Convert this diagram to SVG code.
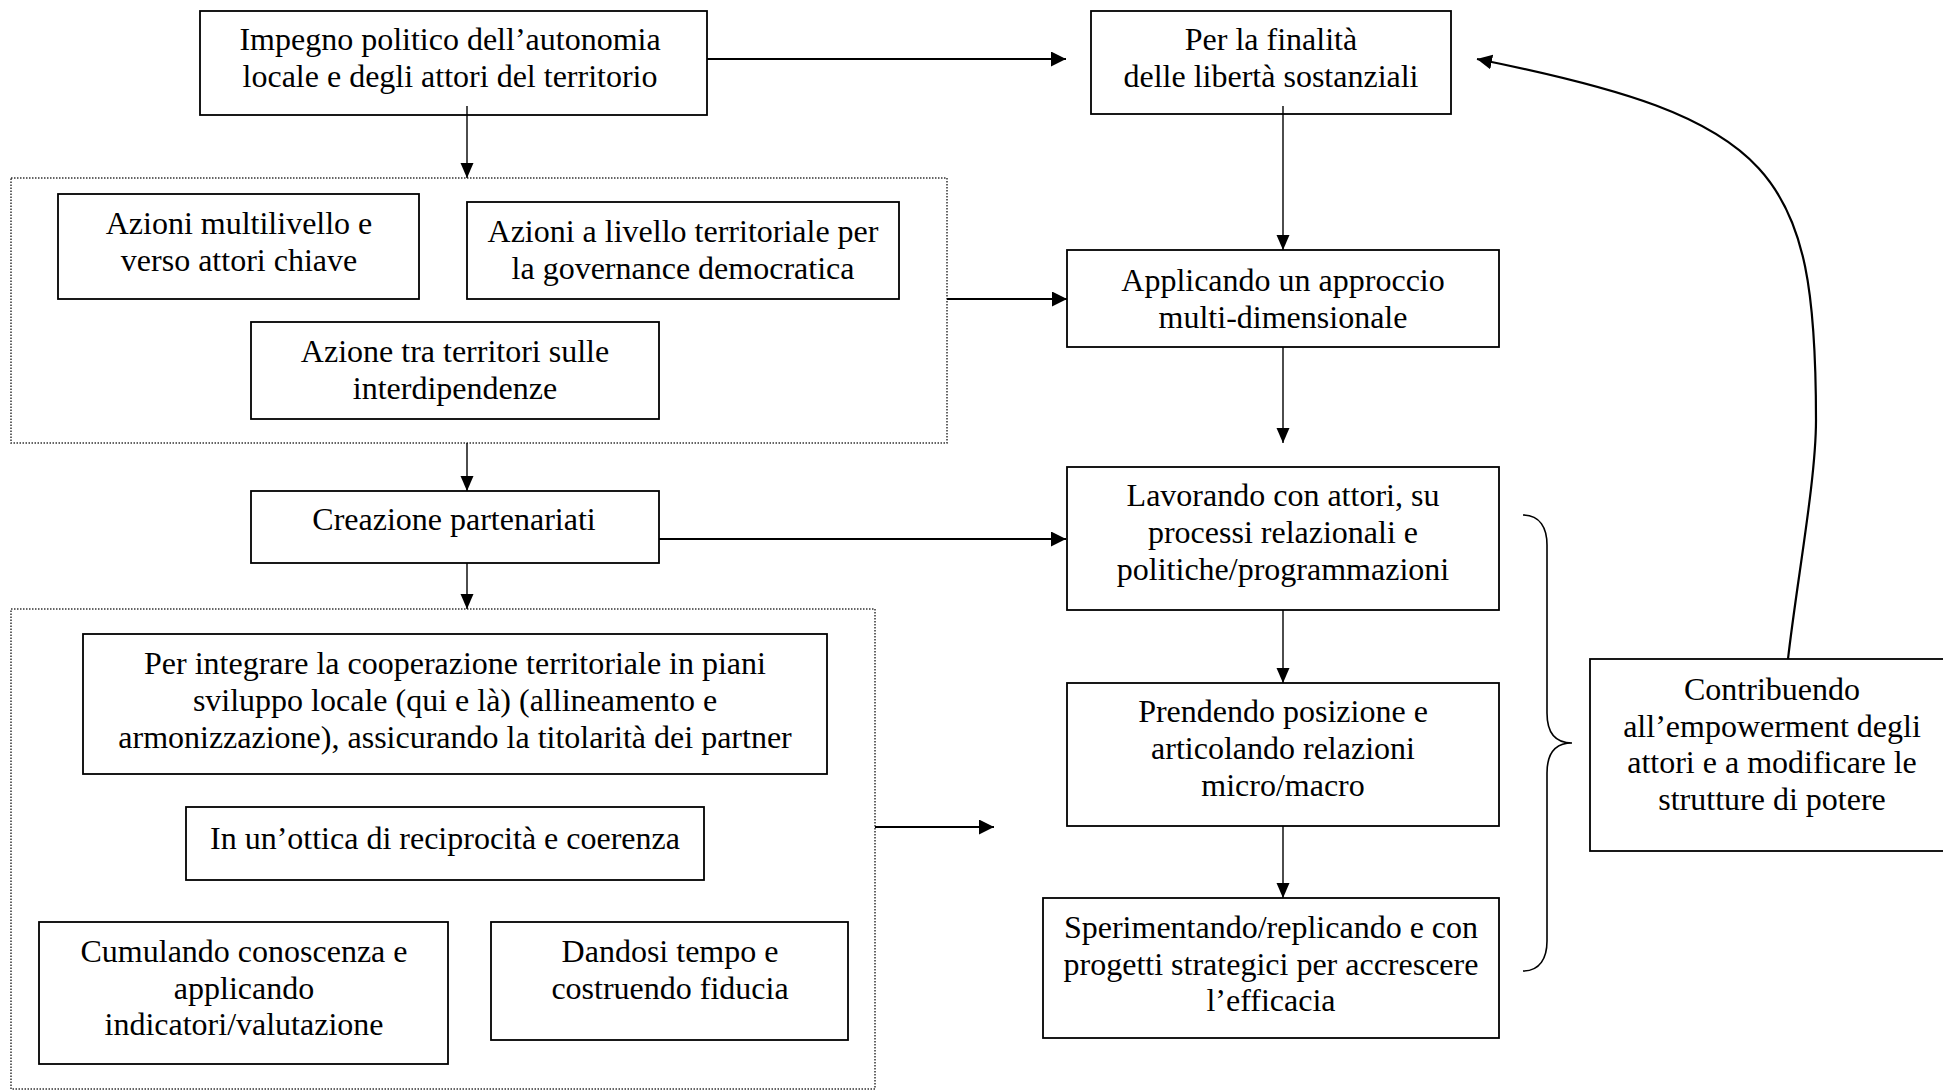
<svg xmlns="http://www.w3.org/2000/svg" width="1943" height="1091" viewBox="0 0 1943 1091">
<defs>
<style>
.box{fill:#fff;stroke:#000;stroke-width:1.8}
.grp{fill:none;stroke:#333;stroke-width:1.5;stroke-dasharray:1.5 1.5}
.h{fill:none;stroke:#000;stroke-width:2.2}
.v{fill:none;stroke:#000;stroke-width:1.4}
.c{fill:none;stroke:#000;stroke-width:2.2}
.br{fill:none;stroke:#000;stroke-width:1.6}
text{font-family:"Liberation Serif","Times New Roman",serif;font-size:32px;fill:#000;text-anchor:middle}
</style>
<marker id="ah" markerUnits="userSpaceOnUse" markerWidth="16" markerHeight="15" refX="15" refY="7.5" orient="auto" viewBox="0 0 16 15">
<path d="M0,0 L15,7.5 L0,15 z" fill="#000"/>
</marker>
<marker id="av" markerUnits="userSpaceOnUse" markerWidth="16" markerHeight="14" refX="15" refY="7" orient="auto" viewBox="0 0 16 14">
<path d="M0,0.5 L15,7 L0,13.5 z" fill="#000"/>
</marker>
</defs>

<g id="group-actions">
<rect class="grp" x="11" y="178" width="936" height="265"/>
</g>
<g id="group-methods">
<rect class="grp" x="11" y="609" width="864" height="480"/>
</g>

<g id="n-impegno">
<rect class="box" x="200" y="11" width="507" height="104"/>
<text x="450" y="50">Impegno politico dell’autonomia</text>
<text x="450" y="87">locale e degli attori del territorio</text>
</g>
<g id="n-finalita">
<rect class="box" x="1091" y="11" width="360" height="103"/>
<text x="1271" y="50">Per la finalità</text>
<text x="1271" y="87">delle libertà sostanziali</text>
</g>
<g id="n-multilivello">
<rect class="box" x="58" y="194" width="361" height="105"/>
<text x="239" y="234">Azioni multilivello e</text>
<text x="239" y="271">verso attori chiave</text>
</g>
<g id="n-livello-territoriale">
<rect class="box" x="467" y="202" width="432" height="97"/>
<text x="683" y="242">Azioni a livello territoriale per</text>
<text x="683" y="279">la governance democratica</text>
</g>
<g id="n-tra-territori">
<rect class="box" x="251" y="322" width="408" height="97"/>
<text x="455" y="362">Azione tra territori sulle</text>
<text x="455" y="399">interdipendenze</text>
</g>
<g id="n-applicando">
<rect class="box" x="1067" y="250" width="432" height="97"/>
<text x="1283" y="291">Applicando un approccio</text>
<text x="1283" y="328">multi-dimensionale</text>
</g>
<g id="n-creazione">
<rect class="box" x="251" y="491" width="408" height="72"/>
<text x="454" y="530">Creazione partenariati</text>
</g>
<g id="n-integrare">
<rect class="box" x="83" y="634" width="744" height="140"/>
<text x="455" y="674">Per integrare la cooperazione territoriale in piani</text>
<text x="455" y="711">sviluppo locale (qui e là) (allineamento e</text>
<text x="455" y="748">armonizzazione), assicurando la titolarità dei partner</text>
</g>
<g id="n-reciprocita">
<rect class="box" x="186" y="807" width="518" height="73"/>
<text x="445" y="849">In un’ottica di reciprocità e coerenza</text>
</g>
<g id="n-cumulando">
<rect class="box" x="39" y="922" width="409" height="142"/>
<text x="244" y="962">Cumulando conoscenza e</text>
<text x="244" y="999">applicando</text>
<text x="244" y="1035">indicatori/valutazione</text>
</g>
<g id="n-dandosi">
<rect class="box" x="491" y="922" width="357" height="118"/>
<text x="670" y="962">Dandosi tempo e</text>
<text x="670" y="999">costruendo fiducia</text>
</g>
<g id="n-lavorando">
<rect class="box" x="1067" y="467" width="432" height="143"/>
<text x="1283" y="506">Lavorando con attori, su</text>
<text x="1283" y="543">processi relazionali e</text>
<text x="1283" y="580">politiche/programmazioni</text>
</g>
<g id="n-prendendo">
<rect class="box" x="1067" y="683" width="432" height="143"/>
<text x="1283" y="722">Prendendo posizione e</text>
<text x="1283" y="759">articolando relazioni</text>
<text x="1283" y="796">micro/macro</text>
</g>
<g id="n-sperimentando">
<rect class="box" x="1043" y="898" width="456" height="140"/>
<text x="1271" y="938">Sperimentando/replicando e con</text>
<text x="1271" y="975">progetti strategici per accrescere</text>
<text x="1271" y="1011">l’efficacia</text>
</g>
<g id="n-contribuendo">
<rect class="box" x="1590" y="659" width="370" height="192"/>
<text x="1772" y="700">Contribuendo</text>
<text x="1772" y="737">all’empowerment degli</text>
<text x="1772" y="773">attori e a modificare le</text>
<text x="1772" y="810">strutture di potere</text>
</g>

<g id="connectors">
<line class="h" x1="707" y1="59" x2="1066" y2="59" marker-end="url(#ah)"/>
<line class="v" x1="467" y1="106" x2="467" y2="178" marker-end="url(#av)"/>
<line class="v" x1="1283" y1="106" x2="1283" y2="250" marker-end="url(#av)"/>
<line class="h" x1="947" y1="299" x2="1067" y2="299" marker-end="url(#ah)"/>
<line class="v" x1="1283" y1="347" x2="1283" y2="443" marker-end="url(#av)"/>
<line class="v" x1="467" y1="443" x2="467" y2="491" marker-end="url(#av)"/>
<line class="h" x1="659" y1="539" x2="1066" y2="539" marker-end="url(#ah)"/>
<line class="v" x1="467" y1="563" x2="467" y2="609" marker-end="url(#av)"/>
<line class="v" x1="1283" y1="610" x2="1283" y2="683" marker-end="url(#av)"/>
<line class="v" x1="1283" y1="826" x2="1283" y2="898" marker-end="url(#av)"/>
<line class="h" x1="875" y1="827" x2="994" y2="827" marker-end="url(#ah)"/>
<path class="c" d="M1788,659 C1797,580 1816,480 1816,420 C1816,170 1776,119 1477,59" marker-end="url(#ah)"/>
<path class="br" d="M1523,515 C1540,515 1547,528 1547,545 L1547,713 C1547,733 1556,743 1572,743 C1556,743 1547,753 1547,773 L1547,941 C1547,958 1540,971 1523,971"/>
</g>
</svg>
